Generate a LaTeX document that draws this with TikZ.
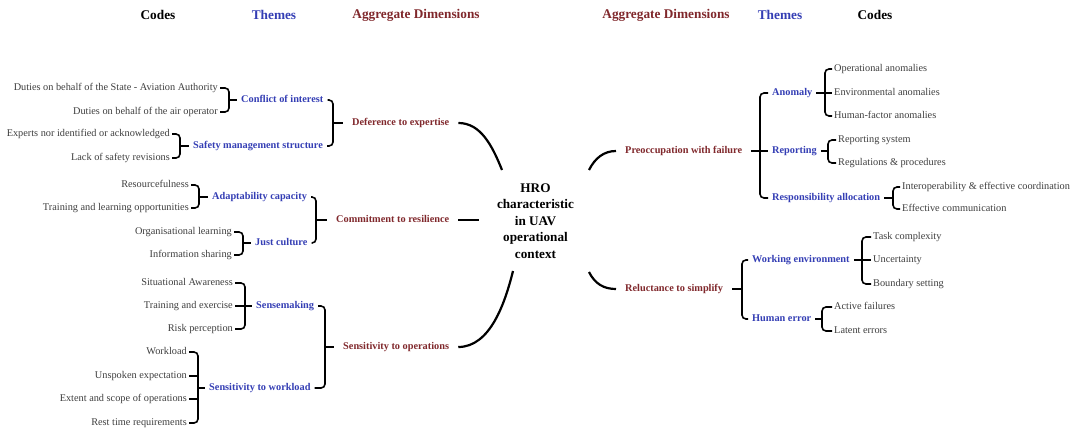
\documentclass[tikz,border=0pt]{standalone}
\usepackage{fontspec}
\setmainfont{Liberation Serif}
\usepackage{tikz}
\definecolor{themeblue}{RGB}{52,62,180}
\definecolor{dimred}{RGB}{128,40,44}
\definecolor{codegray}{RGB}{62,62,62}

\begin{document}
\begin{tikzpicture}[x=1pt,y=-1pt,inner ysep=1pt]
    \tikzstyle{code}=[inner xsep=2pt,text height=7pt,text depth=2pt,text=codegray,font=\fontsize{10.3}{12}\selectfont]
    \tikzstyle{theme}=[inner xsep=4pt,text height=7pt,text depth=2pt,text=themeblue,font=\fontsize{10.3}{12}\selectfont\bfseries]
    \tikzstyle{dim}=[inner xsep=9pt,text height=7pt,text depth=2pt,text=dimred,font=\fontsize{10.3}{12}\selectfont\bfseries]
    \tikzstyle{head}=[font=\fontsize{13.3}{15}\selectfont\bfseries]
    \tikzstyle{brace}=[line width=1.6pt,rounded corners=4pt]
    \tikzstyle{branch}=[line width=2.2pt]
    \useasboundingbox (0,0) rectangle (1081,431);

    \node[head] (hc1) at (158,15) {Codes};
    \node[head,text=themeblue] (ht1) at (274,15) {Themes};
    \node[head,text=dimred] (hd1) at (416,15) {Aggregate Dimensions};
    \node[head,text=dimred] (hd2) at (666,15) {Aggregate Dimensions};
    \node[head,text=themeblue] (ht2) at (780,15) {Themes};
    \node[head] (hc2) at (875,15) {Codes};

    \node[align=center,font=\fontsize{13.2}{16.5}\selectfont\bfseries] (hro) at (535.5,221)
        {HRO\\characteristic\\in UAV\\operational\\context};

    % codes
    \foreach \n/\x/\y/\t in {1/220/88/Duties on behalf of the State - Aviation Authority,
        2/220/112/Duties on behalf of the air operator, 3/172/134/Experts nor identified or acknowledged,
        4/172/158/Lack of safety revisions, 5/191/185/Resourcefulness,
        6/191/208/Training and learning opportunities, 7/234/232/Organisational learning,
        8/234/255/Information sharing, 9/235/283/Situational Awareness,
        10/235/306/Training and exercise, 11/235/329/Risk perception, 12/189/352/Workload,
        13/189/376/Unspoken expectation, 14/189/399/Extent and scope of operations,
        15/189/423/Rest time requirements}
        \node[code,anchor=east] (c\n) at (\x,\y) {\t};
    \foreach \n/\x/\y/\t in {16/832/69/Operational anomalies, 17/832/93/Environmental anomalies,
        18/832/116/Human-factor anomalies, 19/836/140/Reporting system,
        20/836/163/Regulations \& procedures, 21/900/187/Interoperability \& effective coordination,
        22/900/209/Effective communication, 23/871/237/Task complexity, 24/871/260/Uncertainty,
        25/871/284/Boundary setting, 26/832/307/Active failures, 27/832/331/Latent errors}
        \node[code,anchor=west] (c\n) at (\x,\y) {\t};

    % themes
    \node[theme,anchor=west] (t1) at (237,100) {Conflict of interest};
    \node[theme,anchor=west] (t2) at (189,146) {Safety management structure};
    \node[theme,anchor=west] (t3) at (208,197) {Adaptability capacity};
    \node[theme,anchor=west] (t4) at (251,243) {Just culture};
    \node[theme,anchor=west] (t5) at (252,306) {Sensemaking};
    \node[theme,anchor=west] (t6) at (205,388) {Sensitivity to workload};
    \node[theme,anchor=west] (t7) at (768,93) {Anomaly};
    \node[theme,anchor=west] (t8) at (768,151) {Reporting};
    \node[theme,anchor=west] (t9) at (768,198) {Responsibility allocation};
    \node[theme,anchor=west] (t10) at (748,260) {Working environment};
    \node[theme,anchor=west] (t11) at (748,319) {Human error};

    % aggregate dimensions
    \node[dim,anchor=west] (d1) at (343,123) {Deference to expertise};
    \node[dim,anchor=west] (d2) at (327,220) {Commitment to resilience};
    \node[dim,anchor=west] (d3) at (334,347) {Sensitivity to operations};
    \node[dim,anchor=west] (d4) at (616,151) {Preoccupation with failure};
    \node[dim,anchor=west] (d5) at (616,289) {Reluctance to simplify};

    \coordinate (b1) at (229,100);
    \coordinate (b2) at (180,146);
    \coordinate (b3) at (199,197);
    \coordinate (b4) at (243,243);
    \coordinate (b5) at (245,306);
    \coordinate (b6) at (198,388);
    \coordinate (b7) at (825,93);
    \coordinate (b8) at (828,151);
    \coordinate (b9) at (893,198);
    \coordinate (b10) at (862,260);
    \coordinate (b11) at (822,319);
    \coordinate (bd1) at (333,123);
    \coordinate (bd2) at (316,220);
    \coordinate (bd3) at (325,347);
    \coordinate (bd4) at (760,151);
    \coordinate (bd5) at (742,289);

    \foreach \a/\b/\t in {1/2/1, 3/4/2, 5/6/3, 7/8/4} {
        \draw[brace] (c\a.east) -| (b\t) |- (c\b.east);
        \draw[brace] (b\t) -- (t\t.west);
    }
    \draw[brace] (c9.east) -| (b5) |- (c11.east);
    \draw[brace] (c10.east) -- (t5.west);
    \draw[brace] (c12.east) -| (b6) |- (c15.east);
    \draw[brace] (c13.east) -- (c13.east -| b6);
    \draw[brace] (c14.east) -- (c14.east -| b6);
    \draw[brace] (b6) -- (t6.west);

    \draw[brace] (c16.west) -| (b7) |- (c18.west);
    \draw[brace] (t7.east) -- (c17.west);
    \foreach \a/\b/\t in {19/20/8, 21/22/9} {
        \draw[brace] (c\a.west) -| (b\t) |- (c\b.west);
        \draw[brace] (t\t.east) -- (b\t);
    }
    \draw[brace] (c23.west) -| (b10) |- (c25.west);
    \draw[brace] (t10.east) -- (c24.west);
    \draw[brace] (c26.west) -| (b11) |- (c27.west);
    \draw[brace] (t11.east) -- (b11);

    \draw[brace] (t1.east) -| (bd1) |- (t2.east);
    \draw[brace] (bd1) -- (d1.west);
    \draw[brace] (t3.east) -| (bd2) |- (t4.east);
    \draw[brace] (bd2) -- (d2.west);
    \draw[brace] (t5.east) -| (bd3) |- (t6.east);
    \draw[brace] (bd3) -- (d3.west);
    \draw[brace] (t7.west) -| (bd4) |- (t9.west);
    \draw[brace] (d4.east) -- (t8.west);
    \draw[brace] (t10.west) -| (bd5) |- (t11.west);
    \draw[brace] (d5.east) -- (bd5);

    % branches to the centre
    \coordinate (hnw) at (502,170);
    \coordinate (hw) at (479,220);
    \coordinate (hsw) at (513,271);
    \coordinate (hne) at (589,170);
    \coordinate (hse) at (589,272);
    \draw[branch] (d1.east) .. controls +(22,0) and +(-10,-25) .. (hnw);
    \draw[branch] (d2.east) -- (hw);
    \draw[branch] (d3.east) .. controls +(32,0) and +(-8,32) .. (hsw);
    \draw[branch] (hne) .. controls +(6,-12) and +(-12,0) .. (d4.west);
    \draw[branch] (hse) .. controls +(6,12) and +(-12,0) .. (d5.west);
\end{tikzpicture}
\end{document}
